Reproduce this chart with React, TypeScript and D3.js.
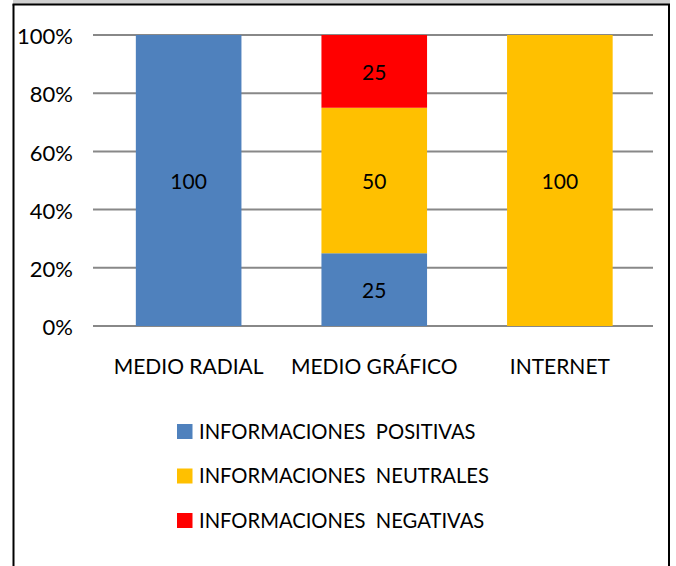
import React from "react";
import * as d3 from "d3";

const categories = ["MEDIO RADIAL", "MEDIO GRÁFICO", "INTERNET"];
const seriesNames = ["INFORMACIONES  POSITIVAS", "INFORMACIONES  NEUTRALES", "INFORMACIONES  NEGATIVAS"];
const positivas = [100, 25, 0];
const neutrales = [0, 50, 100];
const negativas = [0, 25, 0];
const colors = ["#4F81BD", "#FFC000", "#FF0000"];
const yTicks = [0, 20, 40, 60, 80, 100];

const FONT = "Lato, 'Open Sans', sans-serif";

export default function App() {
  const W = 676, H = 566;
  const plotL = 93, plotR = 653, plotT = 35, plotB = 326;
  const x = d3.scaleBand<string>().domain(categories).range([95, 653.5]).paddingInner(0.431).paddingOuter(0.22);
  const y = d3.scaleLinear().domain([0, 100]).range([plotB, plotT]);

  const rows = categories.map((c, i) => ({ cat: c, p: positivas[i], n: neutrales[i], g: negativas[i] }));
  const stack = d3.stack<any>().keys(["p", "n", "g"])(rows);

  return (
    <svg width={W} height={H} style={{ position: "absolute", left: 0, top: 0 }}>
      <rect x={0} y={0} width={W} height={H} fill="#fff" />
      <rect x={13} y={0} width={657} height={4} fill="#d0d0d0" />
      <line x1={13.5} y1={4.5} x2={13.5} y2={H} stroke="#000" strokeWidth={2} />
      <line x1={12.5} y1={4.5} x2={670} y2={4.5} stroke="#000" strokeWidth={2} />
      <line x1={669} y1={4} x2={669} y2={H} stroke="#000" strokeWidth={2} />
      {yTicks.map((t) => (
        <g key={t}>
          <line x1={plotL} x2={plotR} y1={y(t)} y2={y(t)} stroke="#888" strokeWidth={2} />
          <text x={73} y={y(t) + 1.5} dy="0.35em" textAnchor="end" fontFamily={FONT} fontSize={22} fill="#000">
            {t}%
          </text>
        </g>
      ))}
      {stack.map((s, si) =>
        s.map((d, i) => {
          const v = d[1] - d[0];
          if (v <= 0) return null;
          const cat = categories[i];
          const x0 = x(cat)!;
          return (
            <g key={si + "-" + i}>
              <rect x={x0} y={y(d[1])} width={x.bandwidth()} height={y(d[0]) - y(d[1])} fill={colors[si]} />
              <text x={x0 + x.bandwidth() / 2} y={(y(d[0]) + y(d[1])) / 2 + 1} dy="0.35em" textAnchor="middle" fontFamily={FONT} fontSize={21} fill="#000">
                {v}
              </text>
            </g>
          );
        })
      )}
      {categories.map((c) => (
        <text key={c} x={x(c)! + x.bandwidth() / 2} y={367} dy="0.35em" textAnchor="middle" fontFamily={FONT} fontSize={21} fill="#000">
          {c}
        </text>
      ))}
      {seriesNames.map((n, i) => (
        <g key={n}>
          <rect x={177} y={431.5 + i * 44.5 - 7.5} width={15.5} height={15} fill={colors[i]} />
          <text x={199} y={431.5 + i * 44.5} dy="0.35em" fontFamily={FONT} fontSize={20.2} fill="#000" style={{ whiteSpace: "pre" }}>
            {n}
          </text>
        </g>
      ))}
    </svg>
  );
}
